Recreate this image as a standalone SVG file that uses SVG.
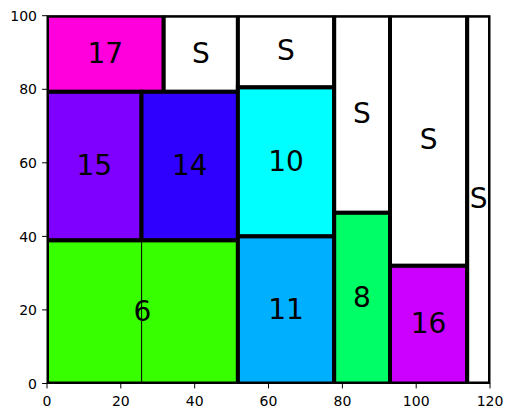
<svg xmlns="http://www.w3.org/2000/svg" width="512" height="418" viewBox="0 0 512 418">
<defs>
<clipPath id="ax"><rect x="47" y="15.7" width="443" height="367.8"/></clipPath>
<style>
.cell{stroke:#000;stroke-width:4}
.lbl{font-family:"DejaVu Sans",sans-serif;font-size:28px;text-anchor:middle;fill:#000}
.tk{font-family:"DejaVu Sans",sans-serif;font-size:14px;fill:#000}
.tx{text-anchor:middle}
.ty{text-anchor:end}
.tick{stroke:#000;stroke-width:1}
</style>
</defs>
<rect x="0" y="0" width="512" height="418" fill="#fff"/>
<g clip-path="url(#ax)">
<g id="n17"><rect class="cell" x="47" y="15.7" width="116.7" height="76.1" fill="#ff00dd"/><text class="lbl" x="105.3" y="62.5">17</text></g>
<g id="nS1"><rect class="cell" x="163.7" y="15.7" width="74.2" height="76.1" fill="#ffffff"/><text class="lbl" x="200.8" y="62.5">S</text></g>
<g id="n15"><rect class="cell" x="47" y="91.8" width="94.5" height="148.6" fill="#7f00ff"/><text class="lbl" x="94.3" y="174.8">15</text></g>
<g id="n14"><rect class="cell" x="141.5" y="91.8" width="96.4" height="148.6" fill="#3000ff"/><text class="lbl" x="189.7" y="174.8">14</text></g>
<g id="n6"><rect class="cell" x="47" y="240.4" width="190.9" height="143.1" fill="#37ff00"/><text class="lbl" x="142.4" y="320.6">6</text></g>
<g id="nS2"><rect class="cell" x="237.9" y="15.7" width="96.3" height="71.7" fill="#ffffff"/><text class="lbl" x="286" y="60.3">S</text></g>
<g id="n10"><rect class="cell" x="237.9" y="87.4" width="96.3" height="149" fill="#00ffff"/><text class="lbl" x="286" y="170.6">10</text></g>
<g id="n11"><rect class="cell" x="237.9" y="236.4" width="96.3" height="147.1" fill="#00b0ff"/><text class="lbl" x="286" y="318.7">11</text></g>
<g id="nS3"><rect class="cell" x="334.2" y="15.7" width="55.8" height="197.1" fill="#ffffff"/><text class="lbl" x="362" y="123">S</text></g>
<g id="n8"><rect class="cell" x="334.2" y="212.8" width="55.8" height="170.7" fill="#00ff66"/><text class="lbl" x="362" y="306.9">8</text></g>
<g id="nS4"><rect class="cell" x="390" y="15.7" width="77.2" height="250.1" fill="#ffffff"/><text class="lbl" x="428.6" y="149.4">S</text></g>
<g id="n16"><rect class="cell" x="390" y="265.8" width="77.2" height="117.7" fill="#cc00ff"/><text class="lbl" x="428.6" y="333.4">16</text></g>
<g id="nS5"><rect class="cell" x="467.2" y="15.7" width="22.8" height="367.8" fill="#ffffff"/><text class="lbl" x="478.6" y="208.3">S</text></g>
</g>
<g id="connectors">
<line x1="141.6" y1="240.4" x2="141.6" y2="383.5" stroke="#000" stroke-width="1"/>
</g>
<g id="axes">
<rect x="47" y="15.7" width="443" height="367.8" fill="none" stroke="#000" stroke-width="1"/>
<g class="tick">
<line x1="47" y1="383.5" x2="47" y2="388.4"/><line x1="120.8" y1="383.5" x2="120.8" y2="388.4"/><line x1="194.7" y1="383.5" x2="194.7" y2="388.4"/><line x1="268.5" y1="383.5" x2="268.5" y2="388.4"/><line x1="342.4" y1="383.5" x2="342.4" y2="388.4"/><line x1="416.2" y1="383.5" x2="416.2" y2="388.4"/><line x1="490" y1="383.5" x2="490" y2="388.4"/>
<line x1="42.1" y1="383.5" x2="47" y2="383.5"/><line x1="42.1" y1="309.9" x2="47" y2="309.9"/><line x1="42.1" y1="236.4" x2="47" y2="236.4"/><line x1="42.1" y1="162.8" x2="47" y2="162.8"/><line x1="42.1" y1="89.3" x2="47" y2="89.3"/><line x1="42.1" y1="15.7" x2="47" y2="15.7"/>
</g>
<g class="tk tx">
<text x="47" y="405.5">0</text><text x="120.8" y="405.5">20</text><text x="194.7" y="405.5">40</text><text x="268.5" y="405.5">60</text><text x="342.4" y="405.5">80</text><text x="416.2" y="405.5">100</text><text x="490" y="405.5">120</text>
</g>
<g class="tk ty">
<text x="37" y="388.6">0</text><text x="37" y="315">20</text><text x="37" y="241.5">40</text><text x="37" y="167.9">60</text><text x="37" y="94.4">80</text><text x="37" y="20.8">100</text>
</g>
</g>
</svg>
